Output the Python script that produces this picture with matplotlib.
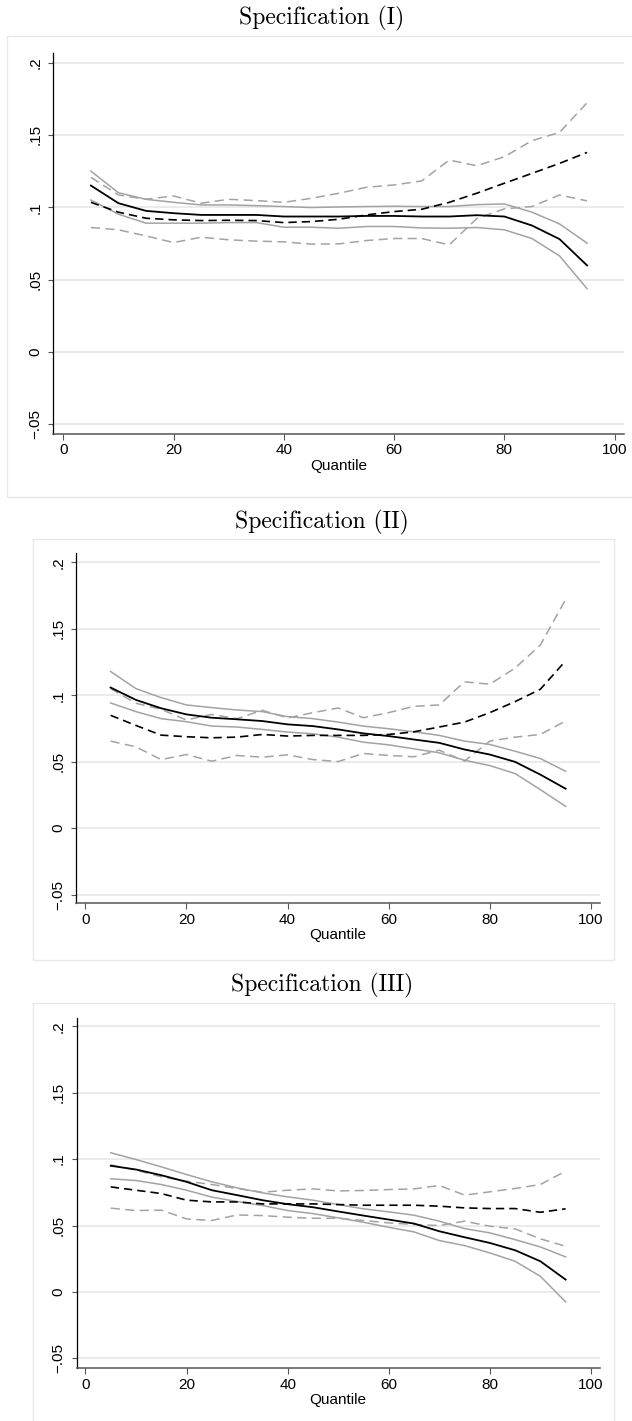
import matplotlib
matplotlib.use('Agg')
import matplotlib.pyplot as plt
from matplotlib.patches import Rectangle

# quantiles where the regressions were run
quantiles = [5, 10, 15, 20, 25, 30, 35, 40, 45, 50, 55, 60, 65, 70, 75, 80, 85, 90, 95]

# Specification (I)
s1_est = [0.115, 0.1028, 0.0975, 0.0959, 0.0947, 0.0947, 0.0947, 0.0936, 0.0936, 0.0936,
          0.094, 0.094, 0.0936, 0.0936, 0.0945, 0.0936, 0.0874, 0.078, 0.0598]
s1_est_hi = [0.125, 0.110, 0.1055, 0.1034, 0.1016, 0.1016, 0.1011, 0.1005, 0.0998, 0.1002,
             0.1005, 0.1007, 0.1005, 0.1005, 0.1018, 0.1023, 0.0966, 0.0885, 0.0752]
s1_est_lo = [0.105, 0.0952, 0.089, 0.089, 0.089, 0.0894, 0.0894, 0.0862, 0.0862, 0.0855,
             0.0867, 0.0867, 0.0857, 0.0855, 0.086, 0.0844, 0.0784, 0.0664, 0.0437]
s1_alt = [0.1034, 0.0966, 0.0924, 0.0913, 0.0908, 0.091, 0.0908, 0.0894, 0.0901, 0.0917,
          0.0947, 0.097, 0.0986, 0.1034, 0.1097, 0.1166, 0.1234, 0.1303, 0.1379]
s1_alt_hi = [0.1207, 0.1085, 0.1055, 0.1078, 0.1028, 0.1055, 0.1046, 0.1034, 0.1062, 0.1097,
             0.1138, 0.1154, 0.1182, 0.1326, 0.1287, 0.1349, 0.146, 0.1517, 0.1722]
s1_alt_lo = [0.086, 0.0844, 0.0802, 0.0756, 0.0793, 0.0775, 0.0766, 0.0761, 0.0745, 0.0747,
             0.077, 0.0784, 0.0784, 0.074, 0.0922, 0.0989, 0.1005, 0.1085, 0.1044]

# Specification (II)
s2_est = [0.1058, 0.0965, 0.0902, 0.0856, 0.0831, 0.0819, 0.0806, 0.0781, 0.0768, 0.0743,
          0.0713, 0.0693, 0.0667, 0.0642, 0.0592, 0.0554, 0.0499, 0.0403, 0.0297]
s2_est_hi = [0.1179, 0.105, 0.0982, 0.0927, 0.0907, 0.0889, 0.0877, 0.0839, 0.0824, 0.0798,
             0.0768, 0.0748, 0.0725, 0.0698, 0.0655, 0.063, 0.0579, 0.0524, 0.0428]
s2_est_lo = [0.0942, 0.0877, 0.0824, 0.0801, 0.0768, 0.0761, 0.0743, 0.0723, 0.071, 0.0685,
             0.0647, 0.0627, 0.0597, 0.0567, 0.0511, 0.0471, 0.0411, 0.029, 0.0164]
s2_alt = [0.0849, 0.0773, 0.070, 0.0688, 0.068, 0.0685, 0.0705, 0.0693, 0.0698, 0.0698,
          0.0698, 0.0705, 0.0725, 0.0761, 0.0798, 0.0869, 0.0952, 0.1045, 0.1259]
s2_alt_hi = [0.105, 0.094, 0.0894, 0.0814, 0.0856, 0.0824, 0.0887, 0.0829, 0.0869, 0.0904,
             0.0831, 0.0869, 0.0917, 0.0927, 0.1101, 0.1083, 0.1204, 0.1378, 0.172]
s2_alt_lo = [0.0655, 0.0612, 0.0516, 0.0554, 0.0504, 0.0547, 0.0534, 0.0552, 0.0516, 0.0501,
             0.0562, 0.0547, 0.0537, 0.0587, 0.0504, 0.0655, 0.0685, 0.0705, 0.0806]

# Specification (III)
s3_est = [0.095, 0.0922, 0.0879, 0.0829, 0.0766, 0.0729, 0.0691, 0.0661, 0.0638, 0.0606,
          0.0575, 0.0545, 0.0515, 0.0457, 0.0412, 0.0369, 0.0314, 0.0231, 0.0093]
s3_est_hi = [0.1048, 0.0997, 0.0942, 0.0884, 0.0829, 0.0784, 0.0746, 0.0716, 0.0691, 0.0658,
             0.0626, 0.0603, 0.0578, 0.0533, 0.0477, 0.0445, 0.0394, 0.0339, 0.0264]
s3_est_lo = [0.0852, 0.0839, 0.0809, 0.0766, 0.0714, 0.0681, 0.0651, 0.0613, 0.059, 0.0558,
             0.0525, 0.0487, 0.0452, 0.0387, 0.0349, 0.0294, 0.0231, 0.0118, -0.0075]
s3_alt = [0.0791, 0.0766, 0.0741, 0.0691, 0.0678, 0.0678, 0.0663, 0.0663, 0.0663, 0.0658,
          0.0653, 0.0653, 0.0653, 0.0646, 0.0633, 0.0628, 0.0628, 0.060, 0.0626]
s3_alt_hi = [0.0957, 0.0917, 0.0867, 0.0834, 0.0809, 0.0779, 0.0751, 0.0766, 0.0776, 0.0761,
             0.0764, 0.0771, 0.0776, 0.0802, 0.0729, 0.0754, 0.0779, 0.0809, 0.091]
s3_alt_lo = [0.0631, 0.0613, 0.0616, 0.055, 0.0538, 0.058, 0.0575, 0.0563, 0.0555, 0.0555,
             0.0538, 0.052, 0.0508, 0.050, 0.0533, 0.0495, 0.0475, 0.040, 0.0344]

titles = ['Specification (I)', 'Specification (II)', 'Specification (III)']
yticks = [-0.05, 0, 0.05, 0.1, 0.15, 0.2]
ytick_labels = ['\u2212.05', '0', '.05', '.1', '.15', '.2']
xticks = [0, 20, 40, 60, 80, 100]
xlabel = 'Quantile'

W, H = 632, 1421
fig = plt.figure(figsize=(W / 100, H / 100), dpi=100)


def px_box(x0, y0, x1, y1):
    # pixel box (top-left origin) -> figure fraction rect
    return [x0 / W, 1 - y1 / H, (x1 - x0) / W, (y1 - y0) / H]


# panel frames (outer light grey boxes)
frames = [(7, 36, 660, 497), (33, 539, 614, 960), (33, 1003, 614, 1440)]
for f in frames:
    r = px_box(*f)
    fig.patches.append(Rectangle((r[0], r[1]), r[2], r[3], transform=fig.transFigure,
                                 fill=False, edgecolor='#e8e8e8', lw=1.0))

# axes placement in pixels: left, top, right, bottom
axes_px = [(53.5, 53, 624, 434), (76, 553, 600, 903.3), (76.5, 1018, 600, 1368.3)]
xlims = [(-1.78, 101.7), (-1.84, 101.8), (-1.78, 101.8)]
ylims = [(-0.0567, 0.2066), (-0.0565, 0.207), (-0.0575, 0.2063)]
title_y = [18, 522, 985]

data = [
    (s1_est, s1_est_hi, s1_est_lo, s1_alt, s1_alt_hi, s1_alt_lo),
    (s2_est, s2_est_hi, s2_est_lo, s2_alt, s2_alt_hi, s2_alt_lo),
    (s3_est, s3_est_hi, s3_est_lo, s3_alt, s3_alt_hi, s3_alt_lo),
]

grey = '#a3a3a3'
for i in range(3):
    l, t, r, b = axes_px[i]
    ax = fig.add_axes(px_box(l, t, r, b))
    est, est_hi, est_lo, alt, alt_hi, alt_lo = data[i]

    for v in yticks:
        ax.axhline(v, color='#e9e9e9', lw=1.3, zorder=0)

    ax.plot(quantiles, est_hi, color=grey, lw=1.1)
    ax.plot(quantiles, est_lo, color=grey, lw=1.1)
    ax.plot(quantiles, alt_hi, color=grey, lw=1.1, dashes=(6, 3.5))
    ax.plot(quantiles, alt_lo, color=grey, lw=1.1, dashes=(6, 3.5))
    ax.plot(quantiles, alt, color='black', lw=1.2, dashes=(5, 3))
    ax.plot(quantiles, est, color='black', lw=1.3)

    ax.set_xlim(*xlims[i])
    ax.set_ylim(*ylims[i])
    ax.set_xticks(xticks)
    ax.set_yticks(yticks)
    ax.set_yticklabels(ytick_labels)
    for lab in ax.get_yticklabels():
        lab.set_rotation(90)
        lab.set_va('center')
    ax.tick_params(axis='both', labelsize=11, direction='out', color='#555555', width=0.8)
    ax.tick_params(axis='y', length=3.8, pad=4)
    ax.tick_params(axis='x', length=4.3, pad=2.5)
    for lab in ax.get_xticklabels() + ax.get_yticklabels():
        lab.set_family('Liberation Sans')
    ax.set_xlabel(xlabel, fontsize=11, family='Liberation Sans', labelpad=1)

    ax.spines['top'].set_visible(False)
    ax.spines['right'].set_visible(False)
    ax.spines['left'].set_color('black')
    ax.spines['left'].set_linewidth(0.9)
    ax.spines['bottom'].set_color('#555555')
    ax.spines['bottom'].set_linewidth(1.1)
    ax.set_facecolor('none')

    fig.text(322 / W, 1 - title_y[i] / H, titles[i], family='cmr10', fontsize=17,
             ha='center', va='center')

fig.savefig('out.png', dpi=100)
